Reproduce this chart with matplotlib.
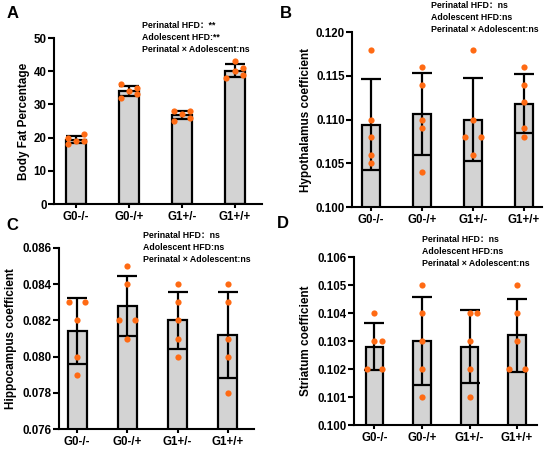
import numpy as np
import matplotlib
matplotlib.use("Agg")
import matplotlib.pyplot as plt

plt.rcParams['font.family'] = ['Liberation Sans', 'Noto Sans CJK SC', 'DejaVu Sans']
plt.rcParams['font.weight'] = 'bold'

# =========================
# Data
# =========================
groups = ["G0-/-", "G0-/+", "G1+/-", "G1+/+"]

body_fat = [
    [20, 21, 19, 18, 19],
    [36, 35, 34, 33, 32],
    [28, 28, 27, 26, 25],
    [43, 41, 40, 39, 38],
]
hypothalamus = [
    [0.118, 0.110, 0.108, 0.106, 0.105],
    [0.116, 0.114, 0.110, 0.109, 0.104],
    [0.118, 0.110, 0.108, 0.108, 0.106],
    [0.116, 0.114, 0.112, 0.109, 0.108],
]
hippocampus = [
    [0.083, 0.083, 0.082, 0.080, 0.079],
    [0.085, 0.084, 0.082, 0.082, 0.081],
    [0.084, 0.083, 0.082, 0.081, 0.080],
    [0.084, 0.083, 0.081, 0.080, 0.078],
]
striatum = [
    [0.104, 0.103, 0.103, 0.102, 0.102],
    [0.105, 0.104, 0.103, 0.102, 0.101],
    [0.104, 0.104, 0.103, 0.102, 0.101],
    [0.105, 0.104, 0.103, 0.102, 0.102],
]

# horizontal spread of the dots (-1 left, 0 centre, 1 right)
spread_a = [[-1, 1, 0, -1, 1], [-1, 1, 0, 1, -1], [-1, 1, 0, 1, -1], [0, 1, 0, 1, -1]]
spread_b = [[0, 0, 0, 0, 0], [0, 0, 0, 0, 0], [0, 0, -1, 1, 0], [0, 0, 0, 0, 0]]
spread_c = [[-1, 1, 0, 0, 0], [0, 0, -1, 1, 0], [0, 0, 0, 0, 0], [0, 0, 0, 0, 0]]
spread_d = [[0, 1, 0, -1, 1], [0, 0, 0, 0, 0], [0, 1, 0, 0, 0], [0, 0, 0, -1, 1]]

stats_a = ["Perinatal HFD\uff1a**", "Adolescent HFD:**", "Perinatal \u00d7 Adolescent:ns"]
stats_ns = ["Perinatal HFD\uff1ans", "Adolescent HFD:ns", "Perinatal \u00d7 Adolescent:ns"]

W, H = 550, 451


def px_axes(fig, left, top, right, bottom):
    return fig.add_axes([left / W, 1 - bottom / H, (right - left) / W, (bottom - top) / H])


def panel(ax, data, spread, ylim, yticks, fmt, ylabel, xlim, width, label_x):
    x = np.arange(len(groups))
    means = [np.mean(d) for d in data]
    sds = [np.std(d, ddof=1) for d in data]
    ax.bar(x, means, width=width, color="#d3d3d3", edgecolor="black", linewidth=1.6, zorder=1)
    ax.errorbar(x, means, yerr=sds, fmt="none", ecolor="black", elinewidth=1.6,
                capsize=7, capthick=1.6, zorder=2)
    for i, d in enumerate(data):
        xs = i + 0.16 * np.array(spread[i])
        ax.scatter(xs, d, s=20, color="#ff6a13", zorder=3, linewidths=0)
    ax.set_xlim(*xlim)
    ax.set_ylim(*ylim)
    ax.set_yticks(yticks)
    ax.set_yticklabels([fmt.format(v) for v in yticks])
    ax.set_xticks(x)
    ax.set_xticklabels(groups)
    ax.set_ylabel(ylabel, fontsize=8.5, fontweight="bold")
    ax.yaxis.set_label_coords(label_x, 0.5)
    for s in ["top", "right"]:
        ax.spines[s].set_visible(False)
    for s in ["left", "bottom"]:
        ax.spines[s].set_linewidth(1.5)
    ax.tick_params(axis="both", width=1.5, length=4.3, labelsize=8.3, pad=1)
    ax.tick_params(axis="x", length=3, pad=2)


fig = plt.figure(figsize=(5.5, 4.51), dpi=100)

ax_a = px_axes(fig, 54, 38, 262, 204)
panel(ax_a, body_fat, spread_a, (0, 50), [0, 10, 20, 30, 40, 50], "{:.0f}",
      "Body Fat Percentage", (-0.415, 3.51), 0.38, -0.115)

ax_b = px_axes(fig, 352, 32, 542, 207)
panel(ax_b, hypothalamus, spread_b, (0.100, 0.120), [0.100, 0.105, 0.110, 0.115, 0.120],
      "{:.3f}", "Hypothalamus coefficient", (-0.37, 3.35), 0.35, -0.21)

ax_c = px_axes(fig, 59, 248, 254, 429)
panel(ax_c, hippocampus, spread_c, (0.076, 0.086),
      [0.076, 0.078, 0.080, 0.082, 0.084, 0.086], "{:.3f}",
      "Hippocampus coefficient", (-0.36, 3.52), 0.38, -0.215)

ax_d = px_axes(fig, 354, 257, 537, 425)
panel(ax_d, striatum, spread_d, (0.100, 0.106),
      [0.100, 0.101, 0.102, 0.103, 0.104, 0.105, 0.106], "{:.3f}",
      "Striatum coefficient", (-0.43, 3.42), 0.37, -0.23)

# panel letters
for letter, (lx, ly) in zip("ABCD", [(13, 14), (286, 13), (12, 225), (283, 224)]):
    fig.text(lx / W, 1 - ly / H, letter, fontsize=12, fontweight="heavy",
             ha="center", va="center")

# statistics text
for lines, (tx, ty) in zip([stats_a, stats_ns, stats_ns, stats_ns],
                           [(142, 26), (431, 6), (143, 236), (422, 240)]):
    for k, line in enumerate(lines):
        fig.text(tx / W, 1 - (ty + k * 11.8) / H, line, fontsize=6.3,
                 fontweight="bold", ha="left", va="center")

fig.savefig("out.png", dpi=100)
